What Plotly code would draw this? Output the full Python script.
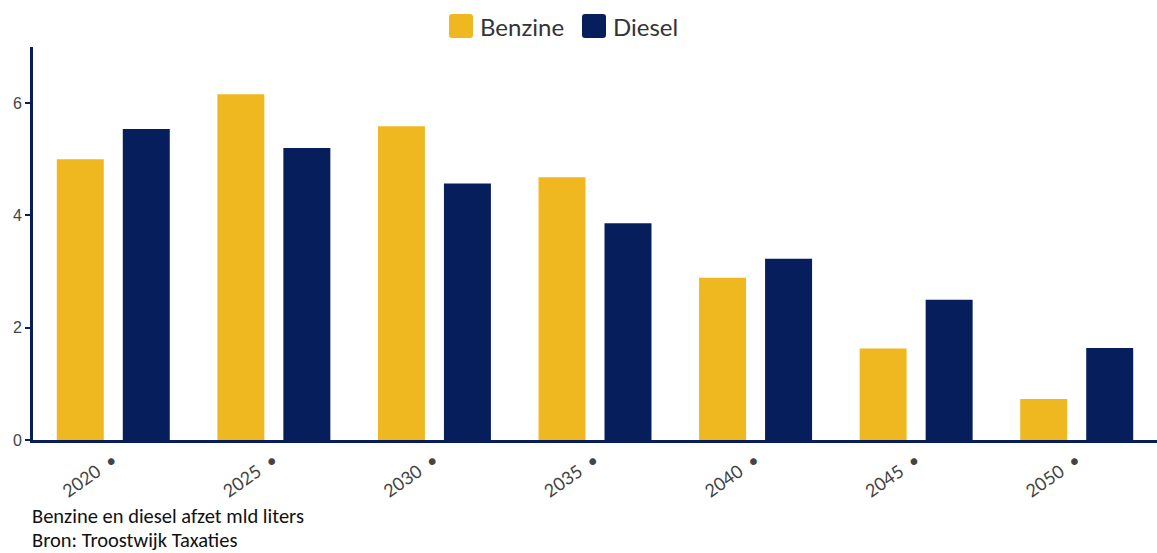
import plotly.graph_objects as go

years = ["2020", "2025", "2030", "2035", "2040", "2045", "2050"]
benzine = [5.0, 6.16, 5.59, 4.68, 2.89, 1.63, 0.73]
diesel = [5.54, 5.2, 4.57, 3.86, 3.23, 2.5, 1.64]
series_names = ["Benzine", "Diesel"]
caption_lines = ["Benzine en diesel afzet mld liters", "Bron: Troostwijk Taxaties"]

yellow = "#EFB821"
navy = "#061F5C"

W, H = 1157, 553
ML, MR, MT, MB = 33, 0, 47, 113
PW, PH = W - ML - MR, H - MT - MB


def px_to_paper(px, py):
    return (px - ML) / PW, (H - MB - py) / PH


def rounded_rect(x0, y0, x1, y1, r):
    # rounded square in pixel space, converted to paper coordinates
    def p(x, y):
        a, b = px_to_paper(x, y)
        return f"{a:.5f},{b:.5f}"
    return (f"M {p(x0 + r, y0)} L {p(x1 - r, y0)} Q {p(x1, y0)} {p(x1, y0 + r)} "
            f"L {p(x1, y1 - r)} Q {p(x1, y1)} {p(x1 - r, y1)} "
            f"L {p(x0 + r, y1)} Q {p(x0, y1)} {p(x0, y1 - r)} "
            f"L {p(x0, y0 + r)} Q {p(x0, y0)} {p(x0 + r, y0)} Z")


fig = go.Figure()
fig.add_trace(go.Bar(name=series_names[0], x=years, y=benzine, marker_color=yellow,
                     marker_line_width=0))
fig.add_trace(go.Bar(name=series_names[1], x=years, y=diesel, marker_color=navy,
                     marker_line_width=0))

# legend drawn by hand: large rounded swatches above the plot
legend_items = [(449, 478, series_names[0], yellow), (582, 611, series_names[1], navy)]
shapes, annotations = [], []
for sx, tx, name, col in legend_items:
    shapes.append(dict(type="path", xref="paper", yref="paper",
                       path=rounded_rect(sx, 14, sx + 24, 38, 3),
                       fillcolor=col, line=dict(width=0)))
    ax, ay = px_to_paper(tx, 26)
    annotations.append(dict(text=name, xref="paper", yref="paper", x=ax, y=ay,
                            xanchor="left", yanchor="middle", showarrow=False,
                            font=dict(family="Lato", size=24, color="#333333")))

# two-line source caption under the chart
for line, py in zip(caption_lines, [516, 540]):
    cx, cy = px_to_paper(30, py)
    annotations.append(dict(text=line, xref="paper", yref="paper", x=cx, y=cy,
                            xanchor="left", yanchor="middle", showarrow=False,
                            font=dict(family="Carlito, Lato", size=20.5, color="#111111")))

fig.update_layout(
    width=W, height=H,
    margin=dict(l=ML, r=MR, t=MT, b=MB),
    paper_bgcolor="white", plot_bgcolor="white",
    barmode="group", bargap=0.178, bargroupgap=0.288,
    showlegend=False,
    xaxis=dict(type="category", showline=True, linecolor=navy, linewidth=3,
               ticks="", tickangle=-35, ticksuffix="  \u2022",
               tickfont=dict(family="Lato", size=18, color="#444444"),
               showgrid=False, zeroline=False),
    yaxis=dict(range=[0, 7], showline=True, linecolor=navy, linewidth=3,
               tickvals=[0, 2, 4, 6], ticks="outside", ticklen=5, tickwidth=2,
               tickcolor=navy,
               tickfont=dict(family="Liberation Sans", size=16, color="#444444"),
               showgrid=False, zeroline=False),
    shapes=shapes,
    annotations=annotations,
)
fig.write_html("out.html")
